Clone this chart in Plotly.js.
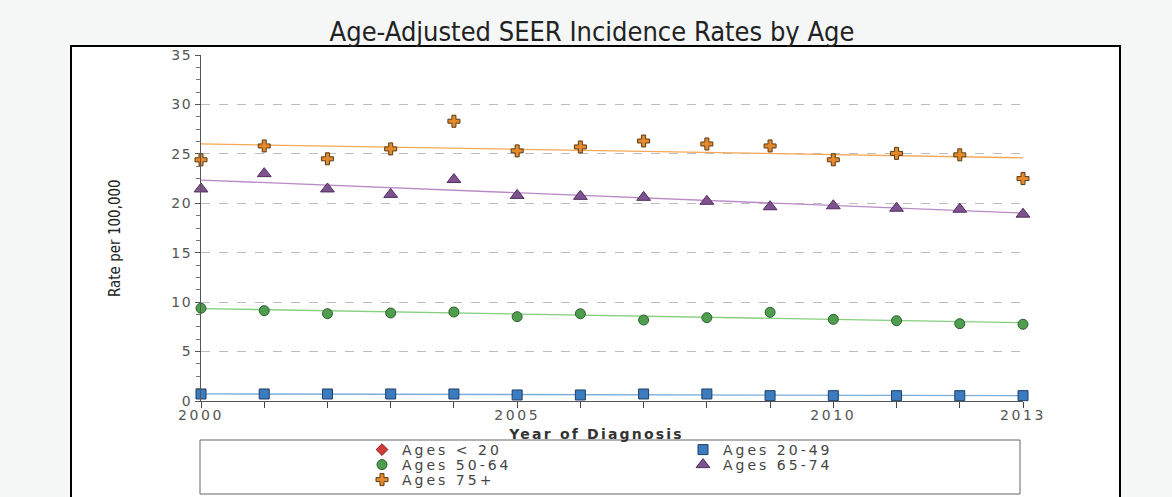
<!DOCTYPE html>
<html>
<head>
<meta charset="utf-8">
<script src="https://cdn.plot.ly/plotly-3.0.1.min.js"></script>
<style>
  html, body { margin: 0; padding: 0; background: #f5f7f7; }
  #chart { width: 1172px; height: 497px; }
  .xtick text { letter-spacing: 2.6px; }
  .ytick text { letter-spacing: 1.6px; }
  [class*="legend"] text { letter-spacing: 3px; }
  g.annotation[data-index="0"] text { letter-spacing: 2.2px; }
</style>
</head>
<body>
<div id="chart"></div>
<script>
// ---- data ----
const years = [2000, 2001, 2002, 2003, 2004, 2005, 2006, 2007, 2008, 2009, 2010, 2011, 2012, 2013];
const ageLt20 = [null, null, null, null, null, null, null, null, null, null, null, null, null, null];
const age20to49 = [0.71, 0.71, 0.71, 0.71, 0.71, 0.61, 0.61, 0.71, 0.71, 0.54, 0.54, 0.54, 0.54, 0.54];
const age50to64 = [9.38, 9.14, 8.83, 8.90, 9.00, 8.53, 8.83, 8.19, 8.43, 8.97, 8.26, 8.12, 7.82, 7.76];
const age65to74 = [21.45, 23.0, 21.45, 20.9, 22.4, 20.8, 20.7, 20.6, 20.2, 19.65, 19.75, 19.5, 19.4, 18.9];
const age75plus = [24.4, 25.8, 24.5, 25.5, 28.3, 25.3, 25.7, 26.3, 26.0, 25.8, 24.4, 25.05, 24.9, 22.5];

// fitted trend lines (start / end values)
const trendYears = [2000, 2013];
const trend20to49 = [0.72, 0.55];
const trend50to64 = [9.35, 7.92];
const trend65to74 = [22.35, 19.0];
const trend75plus = [26.0, 24.6];

const seriesNames = ['Ages < 20', 'Ages 20-49', 'Ages 50-64', 'Ages 65-74', 'Ages 75+'];
const xTickVals = years;
const xTickText = ['2000', '', '', '', '', '2005', '', '', '', '', '2010', '', '', '2013'];
const yTickVals = [0, 5, 10, 15, 20, 25, 30, 35];
const yTickText = ['0', '5', '10', '15', '20', '25', '30', '35'];

const titleText = 'Age-Adjusted SEER Incidence Rates by Age';
const xTitle = 'Year of Diagnosis';
const yTitle = 'Rate per 100,000';

// ---- geometry helpers (pixel -> paper) ----
const W = 1172, H = 497;
const M = { l: 201, r: 149, t: 55, b: 96, autoexpand: false };
const PW = W - M.l - M.r, PH = H - M.t - M.b;
const px = v => (v - M.l) / PW;
const py = v => (H - M.b - v) / PH;

const pointTrace = (y, name, sym, fill, edge, size, legend) => ({
  x: years, y: y, name: name, type: 'scatter', mode: 'markers',
  marker: { symbol: sym, color: fill, size: size, line: { color: edge, width: 1 } },
  legend: legend, cliponaxis: false
});
const trendTrace = (y, color) => ({
  x: trendYears, y: y, type: 'scatter', mode: 'lines', showlegend: false,
  hoverinfo: 'skip', line: { color: color, width: 1.3 }
});

const data = [
  trendTrace(trend20to49, '#79aedb'),
  trendTrace(trend50to64, '#86cf7f'),
  trendTrace(trend65to74, '#b98bc6'),
  trendTrace(trend75plus, '#f5a855'),
  pointTrace(ageLt20, seriesNames[0], 'diamond', '#d23b3b', '#8a1f1f', 9, 'legend'),
  pointTrace(age20to49, seriesNames[1], 'square', '#3b7bbf', '#1f3f66', 10, 'legend'),
  pointTrace(age50to64, seriesNames[2], 'circle', '#4f9e4f', '#2d5f2d', 10, 'legend2'),
  pointTrace(age65to74, seriesNames[3], 'triangle-up', '#7d528f', '#4f2f5e', 12, 'legend2'),
  pointTrace(age75plus, seriesNames[4], 'cross', '#e48a2c', '#5a3a14', 10, 'legend3')
];

const legendBase = {
  orientation: 'h', xanchor: 'left', yanchor: 'middle',
  x: px(362), entrywidth: 276, entrywidthmode: 'pixels',
  bgcolor: 'rgba(0,0,0,0)', borderwidth: 0, itemsizing: 'trace',
  font: { family: 'DejaVu Sans', size: 14, color: '#444' }
};

const layout = {
  width: W, height: H,
  margin: M,
  paper_bgcolor: '#f5f7f7',
  plot_bgcolor: '#ffffff',
  showlegend: true,
  title: {
    text: titleText, x: 592 / W, xanchor: 'center', y: 1 - 32 / H, yanchor: 'middle',
    font: { family: 'DejaVu Sans Condensed', size: 27, color: '#222' }
  },
  xaxis: {
    range: [2000, 2013], tickmode: 'array', tickvals: xTickVals, ticktext: xTickText,
    ticks: 'outside', ticklen: 6, tickcolor: '#444', tickwidth: 1, ticklabelstandoff: -5,
    showline: true, linecolor: '#555', linewidth: 1, showgrid: false, zeroline: false,
    tickfont: { family: 'DejaVu Sans', size: 14, color: '#555' }, tickangle: 0
  },
  yaxis: {
    range: [0, 35], tickmode: 'array', tickvals: yTickVals, ticktext: yTickText,
    ticks: 'outside', ticklen: 5, tickcolor: '#555', tickwidth: 1,
    minor: { dtick: 1.25, tick0: 0, ticks: 'outside', ticklen: 4, tickcolor: '#777', showgrid: false },
    showline: true, linecolor: '#555', linewidth: 1,
    showgrid: true, gridcolor: '#bdbdbd', griddash: 'dash', gridwidth: 1, zeroline: false,
    tickfont: { family: 'DejaVu Sans', size: 14, color: '#555' }
  },
  legend: Object.assign({}, legendBase, { y: py(450) }),
  legend2: Object.assign({}, legendBase, { y: py(465) }),
  legend3: Object.assign({}, legendBase, { y: py(480) }),
  shapes: [
    { type: 'rect', xref: 'paper', yref: 'paper', layer: 'below',
      x0: px(71), x1: px(1120), y0: py(46), y1: py(520),
      fillcolor: '#ffffff', line: { color: '#000', width: 2 } },
    { type: 'rect', xref: 'paper', yref: 'paper', layer: 'above',
      x0: px(200), x1: px(1020), y0: py(440), y1: py(494),
      fillcolor: 'rgba(0,0,0,0)', line: { color: '#666', width: 1 } }
  ],
  annotations: [
    { text: '<b>' + xTitle + '</b>', xref: 'paper', yref: 'paper', x: px(596), y: py(434),
      xanchor: 'center', yanchor: 'middle', showarrow: false,
      font: { family: 'DejaVu Sans', size: 14, color: '#333' } },
    { text: yTitle, xref: 'paper', yref: 'paper', x: px(115), y: py(238),
      xanchor: 'center', yanchor: 'middle', showarrow: false, textangle: -90,
      font: { family: 'Liberation Sans Narrow, DejaVu Sans Condensed', size: 15, color: '#222' } }
  ]
};

Plotly.newPlot('chart', data, layout, { displayModeBar: false, staticPlot: true });
</script>
</body>
</html>
